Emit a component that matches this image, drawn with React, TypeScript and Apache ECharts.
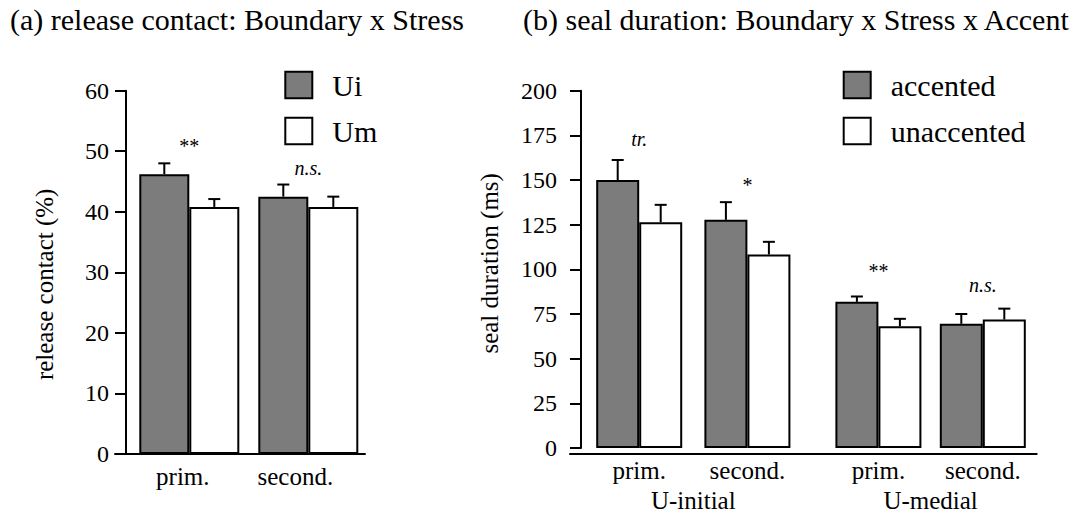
import React, { useEffect, useRef } from "react";
import * as echarts from "echarts";

const FONT = '"Liberation Serif", "Times New Roman", serif';

// (a) release contact
const leftCategories = ["prim.", "second."];
const leftUi = [46.2, 42.5];
const leftUiSE = [1.8, 2.0];
const leftUm = [40.8, 40.8];
const leftUmSE = [1.3, 1.7];
const leftSig = ["**", "n.s."];
const leftSigAt = [50.8, 47.3];

// (b) seal duration
const rightCategories = ["prim.", "second."];
const rightGroups = ["U-initial", "U-medial"];
const accInitial = [150.0, 127.7];
const accInitialSE = [11.2, 9.9];
const unaccInitial = [126.4, 108.3];
const unaccInitialSE = [9.7, 7.1];
const accMedial = [81.8, 69.5];
const accMedialSE = [3.0, 5.5];
const unaccMedial = [68.1, 71.9];
const unaccMedialSE = [4.2, 6.1];
const sigInitial = ["tr.", "*"];
const sigInitialAt = [173, 147.2];
const sigMedial = ["**", "n.s."];
const sigMedialAt = [98.9, 91.1];

const GRAY = "#7c7c7c";

function barSeries(name: string, xi: number, yi: number, data: number[], fill: string, bw: number) {
  return {
    type: "bar",
    name,
    xAxisIndex: xi,
    yAxisIndex: yi,
    data,
    barWidth: bw,
    barGap: "0%",
    itemStyle: { color: fill, borderColor: "#000", borderWidth: 2 },
    silent: true,
  };
}

function errSeries(xi: number, yi: number, means: number[], ses: number[], sign: number, bw: number) {
  return {
    type: "custom",
    xAxisIndex: xi,
    yAxisIndex: yi,
    z: 5,
    silent: true,
    data: means.map((m, i) => [i, m, ses[i]]),
    renderItem: (params: any, api: any) => {
      const i = api.value(0);
      const m = api.value(1);
      const se = api.value(2);
      const base = api.coord([i, m]);
      const top = api.coord([i, m + se]);
      const x = base[0] + (sign * bw) / 2;
      return {
        type: "group",
        children: [
          { type: "line", shape: { x1: x, y1: base[1], x2: x, y2: top[1] }, style: { stroke: "#000", lineWidth: 2 } },
          { type: "line", shape: { x1: x - 6, y1: top[1], x2: x + 6, y2: top[1] }, style: { stroke: "#000", lineWidth: 2 } },
        ],
      };
    },
  };
}

function sigSeries(xi: number, yi: number, labels: string[], at: number[]) {
  return {
    type: "custom",
    xAxisIndex: xi,
    yAxisIndex: yi,
    z: 6,
    silent: true,
    data: at.map((v, i) => [i, v]),
    renderItem: (params: any, api: any) => {
      const p = api.coord([api.value(0), api.value(1)]);
      const t = labels[params.dataIndex];
      const italic = /[a-z]/.test(t);
      return {
        type: "text",
        x: p[0],
        y: p[1],
        style: {
          text: t,
          fill: "#000",
          font: `${italic ? "italic " : ""}20px ${FONT}`,
          align: "center",
          verticalAlign: "middle",
        },
      };
    },
  };
}

const yTickStyle = {
  axisLine: { show: true, lineStyle: { color: "#000", width: 2 } },
  axisTick: { show: true, length: 11, lineStyle: { color: "#000", width: 2 } },
  splitLine: { show: false },
};

const catAxisBase = {
  type: "category",
  axisLine: { show: false },
  axisTick: { show: false },
  axisLabel: { color: "#000", fontSize: 25, fontFamily: FONT, margin: 10 },
  nameLocation: "middle",
  nameGap: 40,
  nameTextStyle: { color: "#000", fontSize: 25, fontFamily: FONT },
};

const baselineX = (gi: number) => ({
  type: "value",
  gridIndex: gi,
  min: 0,
  max: 1,
  axisLine: { show: true, lineStyle: { color: "#000", width: 2 } },
  axisTick: { show: false },
  axisLabel: { show: false },
  splitLine: { show: false },
});

const hiddenY = (gi: number, max: number) => ({
  type: "value",
  gridIndex: gi,
  min: 0,
  max,
  show: false,
});

const legendBase = {
  orient: "vertical",
  top: 70,
  padding: 0,
  itemWidth: 27,
  itemHeight: 26.5,
  itemGap: 16,
  icon: "rect",
  selectedMode: false,
  itemStyle: { borderColor: "#000", borderWidth: 2 },
  textStyle: { color: "#000", fontSize: 30, fontFamily: FONT, lineHeight: 30, padding: [0, 0, 0, 15] },
};

export default function App() {
  const ref = useRef<HTMLDivElement>(null);
  useEffect(() => {
    if (!ref.current) return;
    const chart = echarts.init(ref.current, null, { renderer: "svg" });
    const LBW = 50;
    const RBW = 43;
    chart.setOption({
      animation: false,
      backgroundColor: "#fff",
      textStyle: { fontFamily: FONT },
      title: [
        {
          text: "(a) release contact: Boundary x Stress",
          left: 10,
          top: 4,
          padding: 0,
          textStyle: { color: "#000", fontSize: 30, fontWeight: "normal", fontFamily: FONT },
        },
        {
          text: "(b) seal duration: Boundary x Stress x Accent",
          left: 523,
          top: 4,
          padding: 0,
          textStyle: { color: "#000", fontSize: 30, fontWeight: "normal", fontFamily: FONT },
        },
      ],
      legend: [
        { ...legendBase, left: 284.3, data: ["Ui", "Um"] },
        { ...legendBase, left: 842.7, data: ["accented", "unaccented"] },
      ],
      grid: [
        { left: 129.8, width: 238, top: 90.67, height: 363.33 },
        { left: 585.1, width: 216.4, top: 90.67, height: 363.33 },
        { left: 826.2, width: 208.8, top: 90.67, height: 363.33 },
        { left: 115, width: 250, top: 400, height: 54 },
        { left: 570, width: 466.7, top: 400, height: 54 },
      ],
      xAxis: [
        {
          ...catAxisBase,
          gridIndex: 0,
          data: [
            { value: leftCategories[0], textStyle: { padding: [0, 13, 0, 0] } },
            { value: leftCategories[1], textStyle: { padding: [0, 26, 0, 0] } },
          ],
        },
        { ...catAxisBase, gridIndex: 1, data: rightCategories, name: rightGroups[0] },
        { ...catAxisBase, gridIndex: 2, data: rightCategories, name: rightGroups[1] },
        baselineX(3),
        baselineX(4),
      ],
      yAxis: [
        {
          type: "value",
          gridIndex: 0,
          min: 0,
          max: 60,
          interval: 10,
          offset: 3.8,
          ...yTickStyle,
          axisLabel: { color: "#000", fontSize: 24, fontFamily: FONT, margin: 17 },
          name: "release contact (%)",
          nameLocation: "middle",
          nameGap: 69,
          nameTextStyle: { color: "#000", fontSize: 25, fontFamily: FONT, padding: [0, 24, 0, 0] },
        },
        {
          type: "value",
          gridIndex: 1,
          min: 0,
          max: 200,
          interval: 25,
          offset: 4.1,
          ...yTickStyle,
          axisLabel: { color: "#000", fontSize: 24, fontFamily: FONT, margin: 24 },
          name: "seal duration (ms)",
          nameLocation: "middle",
          nameGap: 79.5,
          nameTextStyle: { color: "#000", fontSize: 25, fontFamily: FONT, padding: [0, 0, 0, 12] },
        },
        hiddenY(2, 200),
        hiddenY(3, 1),
        hiddenY(4, 1),
      ],
      series: [
        barSeries("Ui", 0, 0, leftUi, GRAY, LBW),
        barSeries("Um", 0, 0, leftUm, "#fff", LBW),
        errSeries(0, 0, leftUi, leftUiSE, -1, LBW),
        errSeries(0, 0, leftUm, leftUmSE, 1, LBW),
        sigSeries(0, 0, leftSig, leftSigAt),

        barSeries("accented", 1, 1, accInitial, GRAY, RBW),
        barSeries("unaccented", 1, 1, unaccInitial, "#fff", RBW),
        errSeries(1, 1, accInitial, accInitialSE, -1, RBW),
        errSeries(1, 1, unaccInitial, unaccInitialSE, 1, RBW),
        sigSeries(1, 1, sigInitial, sigInitialAt),

        barSeries("accented", 2, 2, accMedial, GRAY, RBW),
        barSeries("unaccented", 2, 2, unaccMedial, "#fff", RBW),
        errSeries(2, 2, accMedial, accMedialSE, -1, RBW),
        errSeries(2, 2, unaccMedial, unaccMedialSE, 1, RBW),
        sigSeries(2, 2, sigMedial, sigMedialAt),
      ],
    });
    return () => chart.dispose();
  }, []);
  return (
    <div
      ref={ref}
      style={{ position: "absolute", left: 0, top: 0, width: 1071, height: 518, background: "#fff" }}
    />
  );
}
